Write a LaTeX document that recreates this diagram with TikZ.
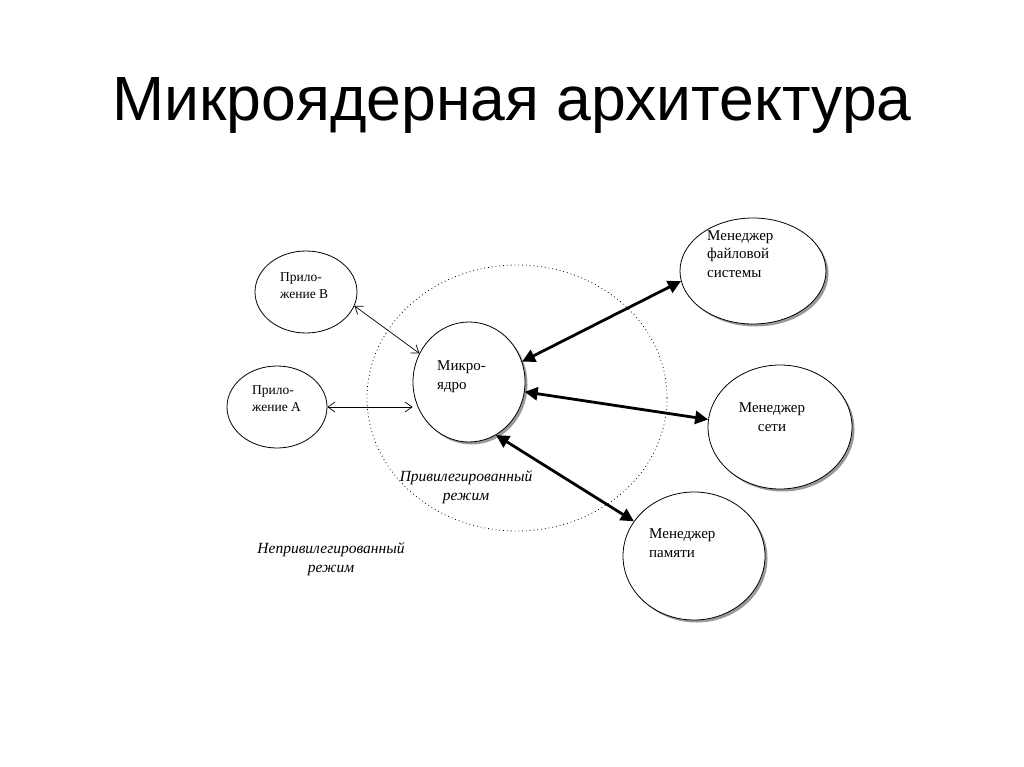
\documentclass[tikz,border=0pt]{standalone}
\usepackage{fontspec}
\setmainfont{Liberation Serif}
\newfontfamily\titlefont{Liberation Sans}
\usetikzlibrary{shapes.geometric,arrows.meta,shadows}
\begin{document}
\begin{tikzpicture}[x=1pt,y=-1pt,
  bub/.style={ellipse,draw,line width=0.8pt,fill=white,inner sep=0},
  shad/.style={drop shadow={shadow xshift=2.5pt,shadow yshift=-2.5pt,fill=black!40,opacity=1}},
  lbl/.style={inner sep=0,font=\fontsize{15}{18.5}\selectfont,align=left,anchor=base west},
  smalllbl/.style={lbl,font=\fontsize{13.5}{17}\selectfont},
  modelbl/.style={inner sep=0,font=\itshape\fontsize{15.5}{18.5}\selectfont,align=center,anchor=base},
  thinarrow/.style={line width=0.7pt,{Straight Barb[length=7pt,width=10pt]}-{Straight Barb[length=7pt,width=10pt]}},
  thickarrow/.style={line width=2.8pt,{Triangle[length=13pt,width=13pt]}-{Triangle[length=13pt,width=13pt]}},
  privzone/.style={ellipse,draw,line width=0.8pt,dash pattern=on 0.8pt off 3pt,inner sep=0}]
\useasboundingbox[fill=white] (0,0) rectangle (1024,767);

% title
\node[inner sep=0,anchor=base,font=\titlefont\fontsize{62.5}{64}\selectfont] (title) at (512,121) {Микроядерная архитектура};

% privileged zone
\node[privzone,minimum width=300pt,minimum height=266pt] (zone) at (517,398) {};

% nodes
\node[bub,minimum width=102pt,minimum height=82pt] (appB) at (306,292) {};
\node[bub,minimum width=100pt,minimum height=82pt] (appA) at (277,407) {};
\node[bub,shad,minimum width=112pt,minimum height=120pt] (micro) at (469,382) {};
\node[bub,shad,minimum width=146pt,minimum height=106pt] (fs) at (753,271) {};
\node[bub,shad,minimum width=144pt,minimum height=124pt] (net) at (780,427) {};
\node[bub,shad,minimum width=142pt,minimum height=128pt] (mem) at (694,556) {};

% texts (anchor = baseline of last line)
\node[smalllbl] (tB) at (280,298) {Прило-\\жение B};
\node[smalllbl] (tA) at (252,411) {Прило-\\жение A};
\node[lbl] (tmicro) at (437,389) {Микро-\\ядро};
\node[lbl] (tfs) at (707,277) {Менеджер\\файловой\\системы};
\node[lbl,align=center,anchor=base] (tnet) at (772,431) {Менеджер\\сети};
\node[lbl] (tmem) at (649,557) {Менеджер\\памяти};
\node[modelbl] (tpriv) at (466,500) {Привилегированный\\режим};
\node[modelbl] (tunpriv) at (331,572) {Непривилегированный\\режим};

% connectors
\draw[thinarrow] (appB.-16) -- (micro.150);
\draw[thinarrow] (appA.east) -- (appA.east -| micro.west);
\draw[thickarrow] (micro.21) -- (fs.188);
\draw[thickarrow] (micro.-10) -- (net.174);
\draw[thickarrow] (micro.-63) -- (mem.150);
\end{tikzpicture}
\end{document}
